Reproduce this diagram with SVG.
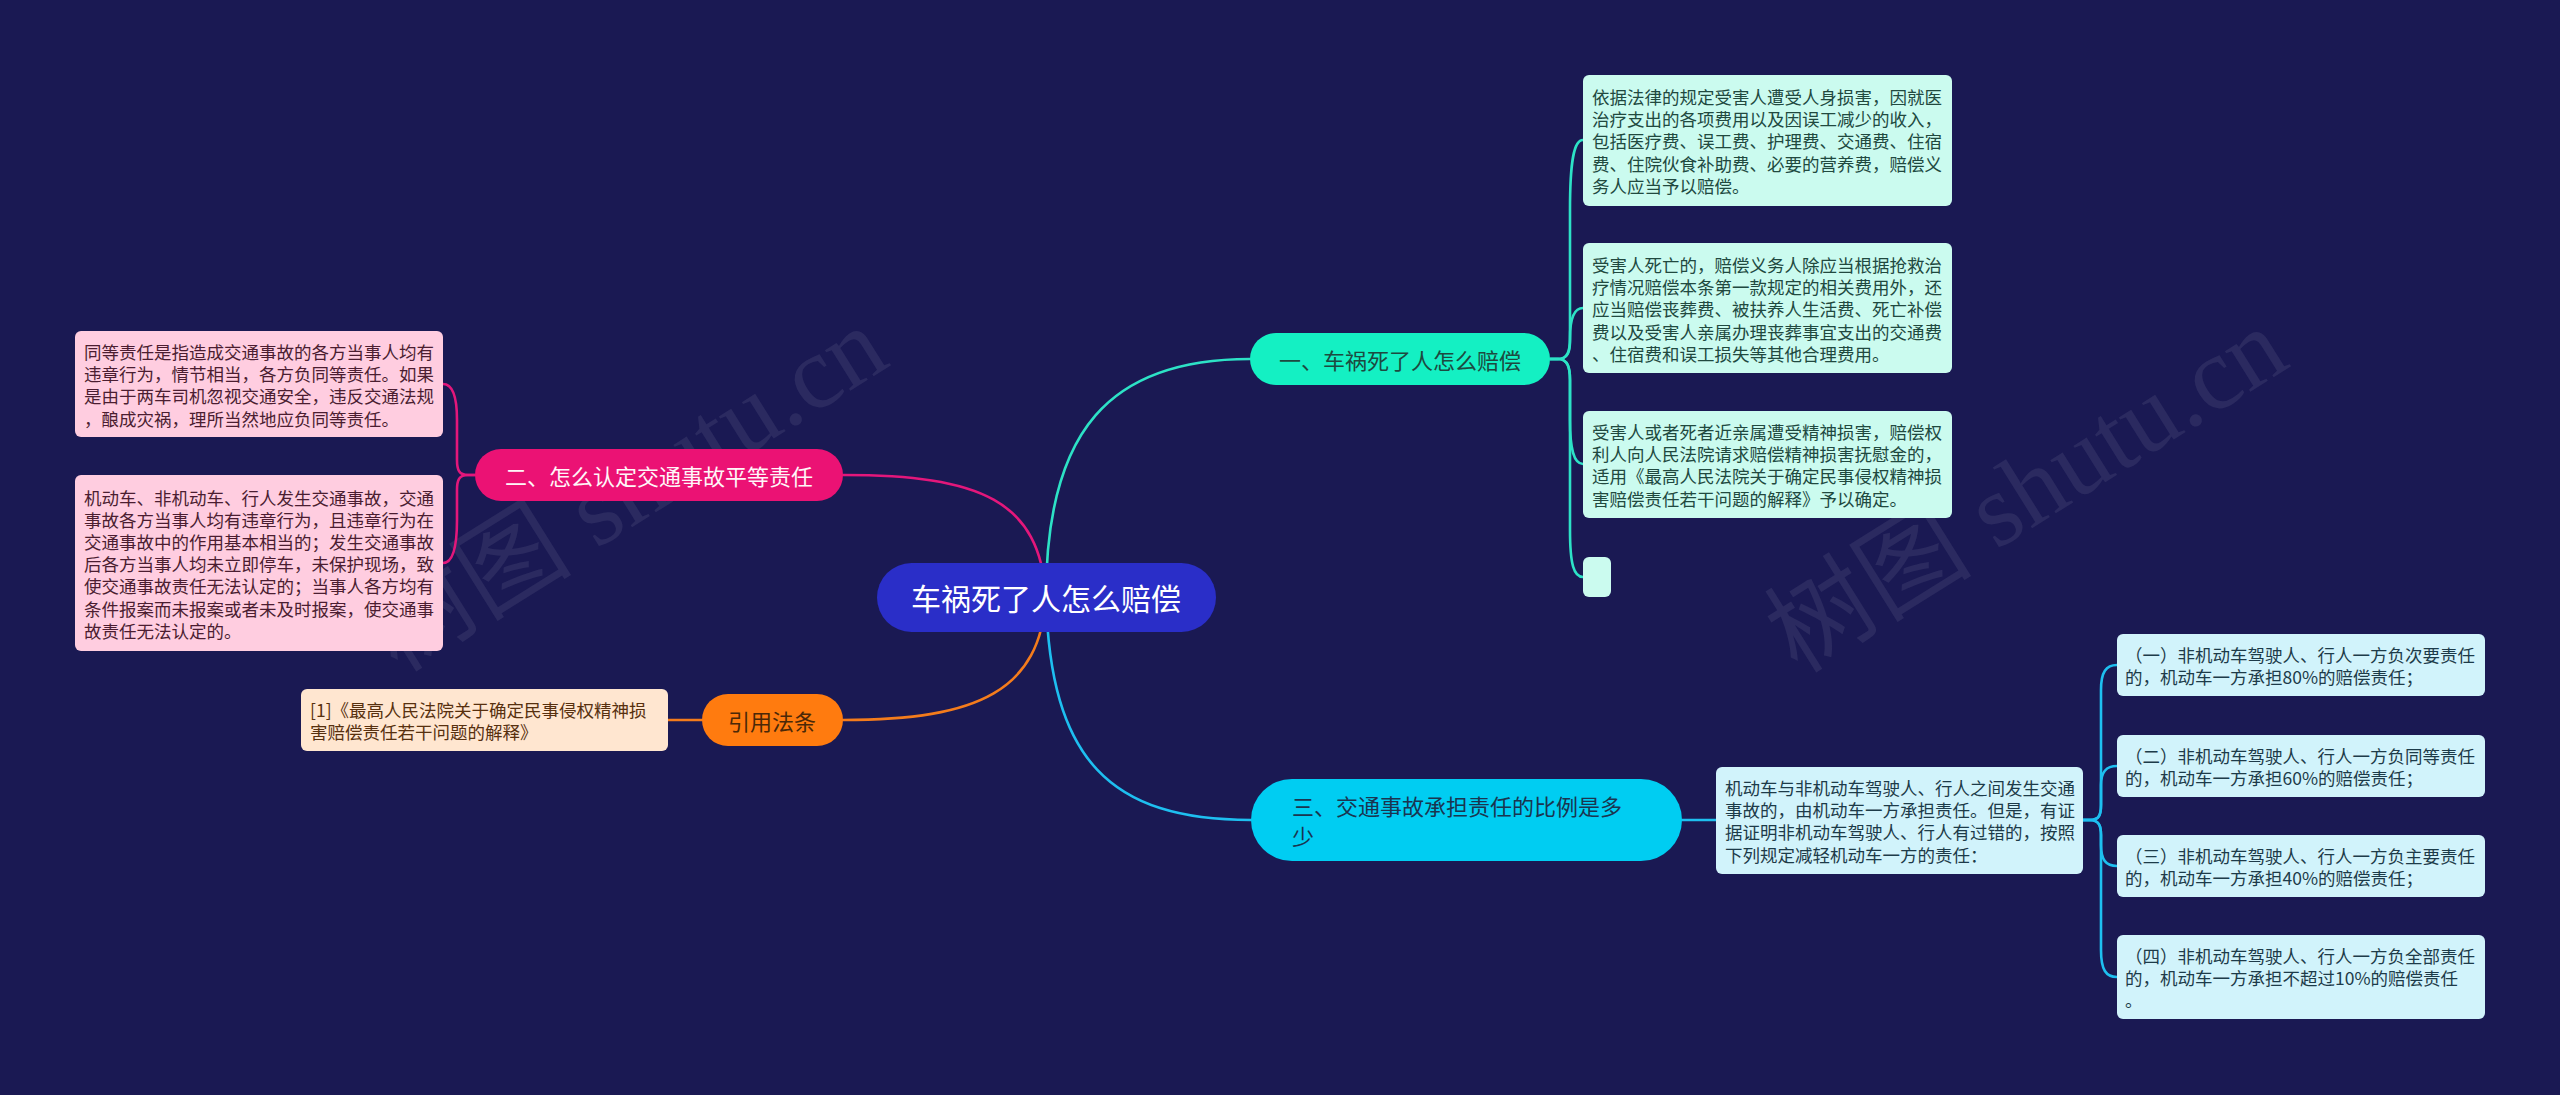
<svg xmlns="http://www.w3.org/2000/svg" width="2560" height="1095" viewBox="0 0 2560 1095">
<style>
text{font-family:"Noto Sans CJK SC","Noto Sans",sans-serif;dominant-baseline:central}
.con{fill:none;stroke-width:2.6;stroke-linecap:round}
.c1{stroke:#2de2c6}.c2{stroke:#e3177b}.c3{stroke:#f47c1c}.c4{stroke:#1ebff0}
.leaf{font-size:17.5px}
.mint rect{fill:#cbfbef}.mint text{fill:#21493f}
.pink rect{fill:#ffcde0}.pink text{fill:#4b1d31}
.peach rect{fill:#ffe6d0}.peach text{fill:#57300f}
.blue rect{fill:#d1f3fb}.blue text{fill:#1d3b49}
.wm{font-family:"Liberation Serif","Noto Sans CJK SC",serif;font-size:104px;fill:#c8c8d8;fill-opacity:0.10;dominant-baseline:auto}
</style>
<rect width="2560" height="1095" fill="#1a1953"/>
<text class="wm" x="645" y="519" text-anchor="middle" transform="rotate(-32 645 519)">树图 shutu.cn</text>
<text class="wm" x="2045" y="520" text-anchor="middle" transform="rotate(-32 2045 520)">树图 shutu.cn</text>
<g id="connectors">
<path class="con c1" d="M1046,597 C1046,430 1110,359 1250,359"/>
<path class="con c2" d="M1046,597 C1040,500 980,475 843,475"/>
<path class="con c3" d="M1046,597 C1040,690 980,720 843,720"/>
<path class="con c4" d="M1046,597 C1050,760 1110,820 1251,820"/>
<path class="con c1" d="M1550,359 H1558 C1568,359 1570,352 1570,340 V210 C1570,160 1574,140 1583,140"/>
<path class="con c1" d="M1550,359 H1558 C1568,359 1570,350 1570,338 C1570,318 1574,308 1583,308"/>
<path class="con c1" d="M1550,359 H1558 C1568,359 1570,368 1570,380 V420 C1570,450 1574,464 1583,464"/>
<path class="con c1" d="M1550,359 H1558 C1568,359 1570,368 1570,380 V530 C1570,565 1574,577 1583,577"/>
<path class="con c2" d="M475,475 H468 C459,475 457,470 457,460 V420 C457,395 452,384 443,384"/>
<path class="con c2" d="M475,475 H468 C459,475 457,480 457,490 V520 C457,550 452,563 443,563"/>
<path class="con c3" d="M702,720 H668"/>
<path class="con c4" d="M1682,820 H1716"/>
<path class="con c4" d="M2083,820 H2090 C2099,820 2101,815 2101,805 V690 C2101,672 2106,665 2117,665"/>
<path class="con c4" d="M2083,820 H2090 C2099,820 2101,815 2101,805 V785 C2101,772 2106,766 2117,766"/>
<path class="con c4" d="M2083,820 H2090 C2099,820 2101,826 2101,835 V845 C2101,860 2106,866 2117,866"/>
<path class="con c4" d="M2083,820 H2090 C2099,820 2101,826 2101,835 V950 C2101,970 2106,977 2117,977"/>
</g>
<g id="root">
<rect x="877" y="563" width="339" height="69" rx="34.5" fill="#2a2ec8"/>
<text x="1046" y="597" text-anchor="middle" font-size="30" fill="#ffffff">车祸死了人怎么赔偿</text>
</g>
<g id="b1">
<rect x="1250" y="333" width="300" height="52" rx="26" fill="#14f0c3"/>
<text x="1400" y="359" text-anchor="middle" font-size="22" fill="#1d4a40">一、车祸死了人怎么赔偿</text>
</g>
<g id="b2">
<rect x="475" y="449" width="368" height="52" rx="26" fill="#eb1274"/>
<text x="659" y="475" text-anchor="middle" font-size="22" fill="#fff6f8">二、怎么认定交通事故平等责任</text>
</g>
<g id="b-cite">
<rect x="702" y="694" width="141" height="52" rx="26" fill="#ff7b0f"/>
<text x="772" y="720" text-anchor="middle" font-size="22" fill="#4a2808">引用法条</text>
</g>
<g id="b3">
<rect x="1251" y="779" width="431" height="82" rx="41" fill="#00cdf2"/>
<text font-size="22" fill="#1a3550"><tspan x="1292" y="805">三、交通事故承担责任的比例是多</tspan><tspan x="1292" y="835">少</tspan></text>
</g>
<g id="leaf1a" class="mint leaf">
<rect x="1583" y="75" width="369" height="131" rx="6"/>
<text><tspan x="1592" y="96">依据法律的规定受害人遭受人身损害，因就医</tspan><tspan x="1592" y="118.2">治疗支出的各项费用以及因误工减少的收入，</tspan><tspan x="1592" y="140.4">包括医疗费、误工费、护理费、交通费、住宿</tspan><tspan x="1592" y="162.6">费、住院伙食补助费、必要的营养费，赔偿义</tspan><tspan x="1592" y="184.8">务人应当予以赔偿。</tspan></text>
</g>
<g id="leaf1b" class="mint leaf">
<rect x="1583" y="243" width="369" height="130" rx="6"/>
<text><tspan x="1592" y="264">受害人死亡的，赔偿义务人除应当根据抢救治</tspan><tspan x="1592" y="286.2">疗情况赔偿本条第一款规定的相关费用外，还</tspan><tspan x="1592" y="308.4">应当赔偿丧葬费、被扶养人生活费、死亡补偿</tspan><tspan x="1592" y="330.6">费以及受害人亲属办理丧葬事宜支出的交通费</tspan><tspan x="1592" y="352.8">、住宿费和误工损失等其他合理费用。</tspan></text>
</g>
<g id="leaf1c" class="mint leaf">
<rect x="1583" y="411" width="369" height="107" rx="6"/>
<text><tspan x="1592" y="431">受害人或者死者近亲属遭受精神损害，赔偿权</tspan><tspan x="1592" y="453.2">利人向人民法院请求赔偿精神损害抚慰金的，</tspan><tspan x="1592" y="475.4">适用《最高人民法院关于确定民事侵权精神损</tspan><tspan x="1592" y="497.6">害赔偿责任若干问题的解释》予以确定。</tspan></text>
</g>
<g id="leaf1d" class="mint leaf">
<rect x="1583" y="557" width="28" height="40" rx="6"/>
</g>
<g id="leaf2a" class="pink leaf">
<rect x="75" y="331" width="368" height="106" rx="6"/>
<text><tspan x="84" y="351">同等责任是指造成交通事故的各方当事人均有</tspan><tspan x="84" y="373.2">违章行为，情节相当，各方负同等责任。如果</tspan><tspan x="84" y="395.4">是由于两车司机忽视交通安全，违反交通法规</tspan><tspan x="84" y="417.6">，酿成灾祸，理所当然地应负同等责任。</tspan></text>
</g>
<g id="leaf2b" class="pink leaf">
<rect x="75" y="475" width="368" height="176" rx="6"/>
<text><tspan x="84" y="496.5">机动车、非机动车、行人发生交通事故，交通</tspan><tspan x="84" y="518.7">事故各方当事人均有违章行为，且违章行为在</tspan><tspan x="84" y="540.9">交通事故中的作用基本相当的；发生交通事故</tspan><tspan x="84" y="563.1">后各方当事人均未立即停车，未保护现场，致</tspan><tspan x="84" y="585.3">使交通事故责任无法认定的；当事人各方均有</tspan><tspan x="84" y="607.5">条件报案而未报案或者未及时报案，使交通事</tspan><tspan x="84" y="629.7">故责任无法认定的。</tspan></text>
</g>
<g id="leaf-cite" class="peach leaf">
<rect x="301" y="689" width="367" height="62" rx="6"/>
<text><tspan x="310" y="709">[1]《最高人民法院关于确定民事侵权精神损</tspan><tspan x="310" y="731.2">害赔偿责任若干问题的解释》</tspan></text>
</g>
<g id="leaf3" class="blue leaf">
<rect x="1716" y="767" width="367" height="107" rx="6"/>
<text><tspan x="1725" y="787">机动车与非机动车驾驶人、行人之间发生交通</tspan><tspan x="1725" y="809.2">事故的，由机动车一方承担责任。但是，有证</tspan><tspan x="1725" y="831.4">据证明非机动车驾驶人、行人有过错的，按照</tspan><tspan x="1725" y="853.6">下列规定减轻机动车一方的责任：</tspan></text>
</g>
<g id="leaf3a" class="blue leaf">
<rect x="2117" y="634" width="368" height="62" rx="6"/>
<text><tspan x="2125" y="654">（一）非机动车驾驶人、行人一方负次要责任</tspan><tspan x="2125" y="676.2">的，机动车一方承担80%的赔偿责任；</tspan></text>
</g>
<g id="leaf3b" class="blue leaf">
<rect x="2117" y="735" width="368" height="62" rx="6"/>
<text><tspan x="2125" y="755">（二）非机动车驾驶人、行人一方负同等责任</tspan><tspan x="2125" y="777.2">的，机动车一方承担60%的赔偿责任；</tspan></text>
</g>
<g id="leaf3c" class="blue leaf">
<rect x="2117" y="835" width="368" height="62" rx="6"/>
<text><tspan x="2125" y="855">（三）非机动车驾驶人、行人一方负主要责任</tspan><tspan x="2125" y="877.2">的，机动车一方承担40%的赔偿责任；</tspan></text>
</g>
<g id="leaf3d" class="blue leaf">
<rect x="2117" y="935" width="368" height="84" rx="6"/>
<text><tspan x="2125" y="955">（四）非机动车驾驶人、行人一方负全部责任</tspan><tspan x="2125" y="977.2">的，机动车一方承担不超过10%的赔偿责任</tspan><tspan x="2125" y="999.4">。</tspan></text>
</g>
</svg>
